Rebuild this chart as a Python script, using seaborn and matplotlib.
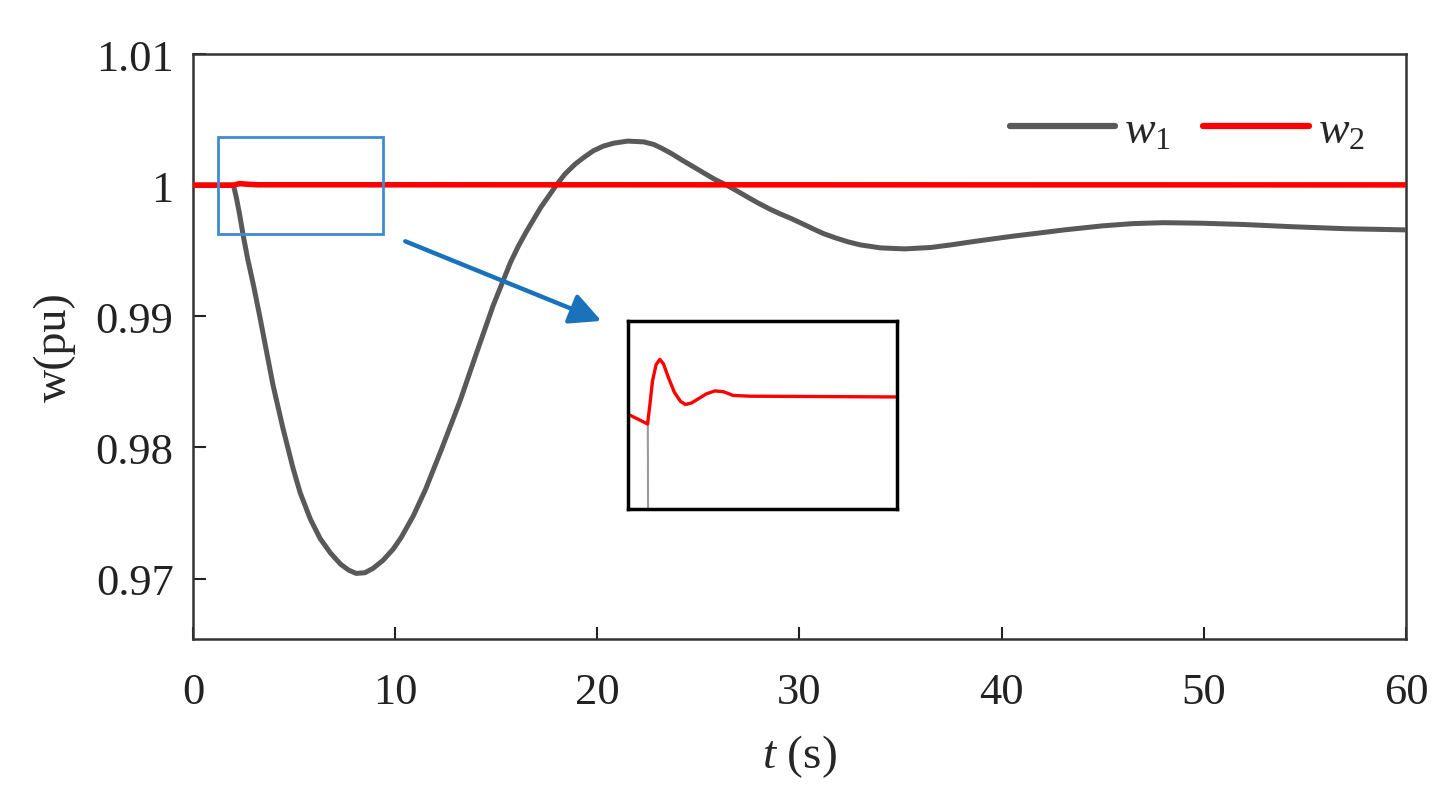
import matplotlib
matplotlib.use("Agg")
import matplotlib.pyplot as plt
import seaborn as sns
import pandas as pd
from matplotlib.patches import Rectangle

# ---- data ----
t_w1 = [0, 2.0, 2.15, 2.3, 2.48, 2.7, 3.0, 3.32, 3.64, 3.96, 4.45, 4.95, 5.3, 5.8, 6.29,
        6.8, 7.3, 7.7, 8.07, 8.5, 8.9, 9.4, 9.9, 10.3, 10.9, 11.5, 12.3, 13.2, 14.0,
        14.85, 15.7, 16.1, 16.5, 17.2, 17.97, 18.4, 18.9, 19.3, 19.8, 20.3, 20.8, 21.5,
        22.3, 22.8, 23.2, 23.7, 24.2, 24.7, 25.3, 25.8, 26.4, 27.0, 27.5, 28.0, 28.5,
        29.0, 29.6, 30.2, 30.7, 31.2, 31.8, 32.4, 33.0, 34.0, 35.2, 36.5, 37.5, 38.6,
        40.5, 42.0, 43.1, 45.0, 46.5, 48.0, 49.9, 52.0, 54.4, 57.0, 60.0]
w1 = [1.0, 1.0, 0.9990, 0.9978, 0.99618, 0.9944, 0.9923, 0.98985, 0.98728, 0.98473,
      0.98145, 0.9784, 0.97655, 0.97455, 0.97305, 0.97195, 0.97110, 0.97065, 0.97040,
      0.97045, 0.97078, 0.97140, 0.97225, 0.97315, 0.97480, 0.9768, 0.97990, 0.98351,
      0.98710, 0.99084, 0.99410, 0.99537, 0.99649, 0.9983, 1.0, 1.00085, 1.0016, 1.00208,
      1.00262, 1.00298, 1.0032, 1.00336, 1.0033, 1.00310, 1.0028, 1.00238, 1.0019,
      1.00145, 1.0009, 1.00045, 1.0, 0.99948, 0.99903, 0.99860, 0.9982, 0.99784, 0.99745,
      0.99702, 0.99665, 0.99630, 0.99597, 0.99568, 0.99545, 0.99522, 0.99514, 0.99525,
      0.99545, 0.99570, 0.99610, 0.99638, 0.99659, 0.9969, 0.99707, 0.99714, 0.9971,
      0.99700, 0.99683, 0.99668, 0.99659]

t_w2 = [0, 2.0, 2.3, 2.6, 3.2, 60.0]
w2 = [1.0, 1.0, 1.00012, 1.00008, 1.00003, 1.00002]

# inset (zoomed view of w2 near the disturbance)
t_in = [1.80, 1.90, 1.96, 1.98, 2.00, 2.03, 2.06, 2.09, 2.13, 2.18, 2.23, 2.27, 2.32,
        2.38, 2.44, 2.51, 2.58, 2.66, 2.80, 4.00]
w2_in = [1.000026, 1.000018, 1.000013, 1.000040, 1.000070, 1.000092, 1.000099,
         1.000093, 1.000075, 1.000055, 1.000043, 1.000039, 1.000041, 1.000047,
         1.000053, 1.000057, 1.000056, 1.000051, 1.000050, 1.000049]
t_in_w1 = [1.962, 1.966]
w1_in = [1.000013, 0.99980]

xticks = [0, 10, 20, 30, 40, 50, 60]
yticks = [0.97, 0.98, 0.99, 1.0, 1.01]
yticklabels = ["0.97", "0.98", "0.99", "1", "1.01"]

sns.set_style("ticks")
plt.rcParams['font.family'] = ['Liberation Serif', 'DejaVu Serif']
plt.rcParams['mathtext.fontset'] = 'custom'
plt.rcParams['mathtext.it'] = 'Liberation Serif:italic'
plt.rcParams['mathtext.rm'] = 'Liberation Serif'

fig = plt.figure(figsize=(14.46, 8.03), dpi=100)
ax = fig.add_axes([0.1335, 0.2030, 0.8388, 0.7285])

df1 = pd.DataFrame({"t": t_w1, "w": w1})
df2 = pd.DataFrame({"t": t_w2, "w": w2})
sns.lineplot(data=df1, x="t", y="w", ax=ax, color="#595959", lw=3.6,
             label=r"$\mathit{w}_{\mathit{1}}$", zorder=3)
sns.lineplot(data=df2, x="t", y="w", ax=ax, color="#ff0000", lw=4.0,
             label=r"$\mathit{w}_{\mathit{2}}$", zorder=4)

ax.set_xlim(0, 60)
ax.set_ylim(0.9654, 1.01)
ax.set_xticks(xticks)
ax.set_yticks(yticks)
ax.set_yticklabels(yticklabels)
ax.tick_params(direction="in", length=9, width=1.5, labelsize=32, pad=14,
               top=False, right=False, colors="#222222")
ax.tick_params(axis="x", pad=24)
for s in ax.spines.values():
    s.set_linewidth(1.8)
    s.set_color("#333333")
ax.set_xlabel(r"$t$ (s)", fontsize=34, labelpad=14)
ax.set_ylabel("w(pu)", fontsize=33, labelpad=14)

leg = ax.legend(loc="upper right", bbox_to_anchor=(1.0, 0.975), ncol=2, frameon=False,
                fontsize=33, handlelength=2.3, handletextpad=0.2, columnspacing=0.7)
for h in leg.get_lines():
    h.set_linewidth(4.5)

# highlight box and arrow
ax.add_patch(Rectangle((1.24, 0.99625), 8.17, 0.00742, fill=False,
                       edgecolor="#3f8bd0", lw=2.0, zorder=5))
ax.annotate("", xy=(20.2, 0.98965), xytext=(10.5, 0.99572),
            arrowprops=dict(arrowstyle="-|>,head_length=1.9,head_width=0.95",
                            color="#1a73ba", lw=3.2, shrinkA=0, shrinkB=0))

# inset
axin = fig.add_axes([0.4343, 0.3649, 0.1860, 0.2341])
axin.plot(t_in_w1, w1_in, color="#9a9a9a", lw=1.5)
axin.plot(t_in, w2_in, color="#ff0000", lw=2.4)
axin.set_xlim(1.8, 4.0)
axin.set_ylim(0.99990, 1.00015)
axin.set_xticks([])
axin.set_yticks([])
for s in axin.spines.values():
    s.set_linewidth(2.5)
    s.set_color("black")

fig.savefig("out.png", dpi=100)
